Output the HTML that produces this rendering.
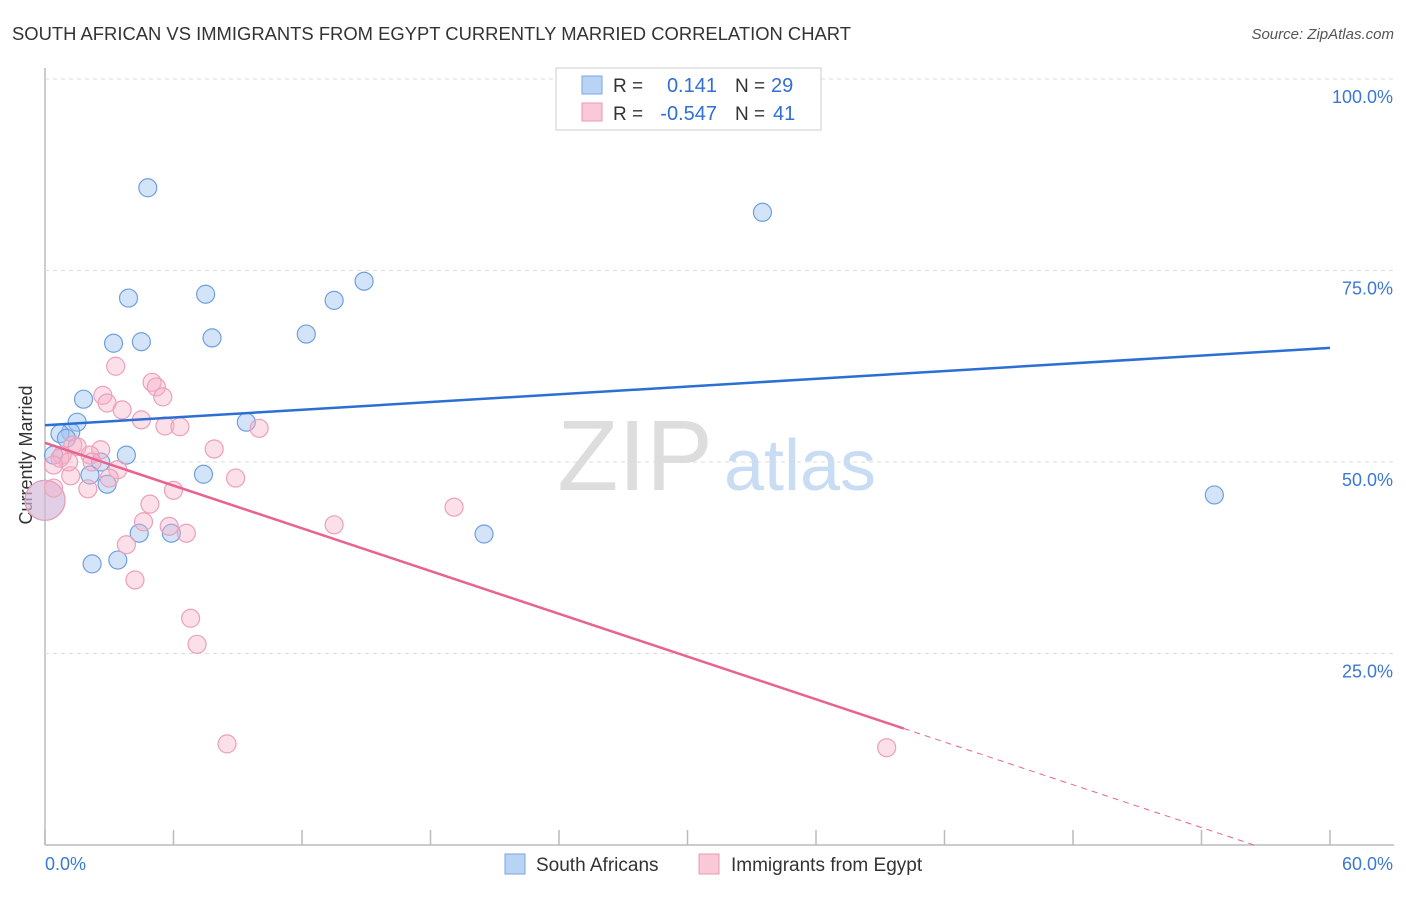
<!DOCTYPE html>
<html><head><meta charset="utf-8"><style>
body{margin:0;background:#fff;font-family:"Liberation Sans",sans-serif;}
svg text{font-family:"Liberation Sans",sans-serif;}
</style></head><body>
<svg id="c" width="1406" height="892">
<text x="12" y="40" font-size="18" textLength="839" lengthAdjust="spacingAndGlyphs" fill="#333">SOUTH AFRICAN VS IMMIGRANTS FROM EGYPT CURRENTLY MARRIED CORRELATION CHART</text>
<text x="1394" y="39" font-size="15" fill="#555" font-style="italic" text-anchor="end">Source: ZipAtlas.com</text>
<text x="635" y="490" font-size="100" fill="#ddd" font-family="Liberation Serif" text-anchor="middle">ZIP</text>
<text x="800" y="490" font-size="72" fill="#c8dcf3" text-anchor="middle">atlas</text>
<text transform="translate(32,455) rotate(-90)" font-size="18" fill="#333" text-anchor="middle">Currently Married</text>
<g id="grid"></g><g id="pts"></g><g id="lines"></g>
<g>
<rect x="556" y="68" width="265" height="62" fill="#fff" stroke="#ccc"/>
<rect x="582" y="76" width="20" height="18" fill="#b8d3f3" stroke="#7aa6e0"/>
<rect x="582" y="103" width="20" height="18" fill="#f9c9d7" stroke="#ec98b2"/>
<text x="613" y="92" font-size="19" fill="#333">R =</text><text x="717" y="92" font-size="20" fill="#2f6fd6" text-anchor="end">0.141</text>
<text x="735" y="92" font-size="19" fill="#333">N =</text><text x="771" y="92" font-size="20" fill="#2f6fd6">29</text>
<text x="613" y="120" font-size="19" fill="#333">R =</text><text x="717" y="120" font-size="20" fill="#2f6fd6" text-anchor="end">-0.547</text>
<text x="735" y="120" font-size="19" fill="#333">N =</text><text x="773" y="120" font-size="20" fill="#2f6fd6">41</text>
</g>
<g>
<rect x="505" y="854" width="20" height="20" fill="#b8d3f3" stroke="#7aa6e0"/>
<text x="536" y="871" font-size="19" fill="#333">South Africans</text>
<rect x="699" y="854" width="20" height="20" fill="#f9c9d7" stroke="#ec98b2"/>
<text x="731" y="871" font-size="19" fill="#333">Immigrants from Egypt</text>
</g>
</svg>
<script>
const blueX=[4.8,33.5,14.9,3.9,7.5,13.5,12.2,3.2,4.5,7.8,1.8,1.5,9.4,1.2,0.7,1.0,3.8,0.4,2.6,2.1,7.4,2.9,54.6,4.4,5.9,20.5,2.2,3.4,0];
const blueY=[85.8,82.6,73.6,71.4,71.9,71.1,66.7,65.5,65.7,66.2,58.2,55.2,55.2,53.9,53.7,53.1,50.9,50.9,50.0,48.3,48.4,47.1,45.7,40.7,40.7,40.6,36.7,37.2,45.0];
const pinkX=[3.3,5.0,5.2,2.7,5.5,2.9,3.6,4.5,5.6,6.3,10.0,1.3,1.5,2.6,7.9,0.8,2.1,0.7,2.2,3.4,1.2,3.0,8.9,0.4,2.0,6.0,19.1,4.9,4.6,5.8,6.6,13.5,3.8,4.2,6.8,7.1,8.5,39.3,0,1.1,0.4];
const pinkY=[62.5,60.4,59.8,58.7,58.5,57.7,56.8,55.5,54.7,54.6,54.4,52.2,52.0,51.6,51.7,50.9,50.9,50.5,50.0,49.0,48.2,47.9,47.9,46.6,46.5,46.3,44.1,44.5,42.2,41.6,40.7,41.8,39.2,34.6,29.6,26.2,13.2,12.7,45.0,50.0,49.6];
const blueTrend=[54.8,64.9];
const pinkTrend=[52.5,-3.3];
const pinkSolidEnd=40.1;
const yTicks=[25,50,75,100];
const xTicks=[0,6,12,18,24,30,36,42,48,54,60];
const NS='http://www.w3.org/2000/svg';
const sx=v=>45+v/60*1285, sy=v=>845-v/100*766;
function mk(tag,at,parent){const e=document.createElementNS(NS,tag);for(const k in at)e.setAttribute(k,at[k]);document.getElementById(parent).appendChild(e);return e;}
let e;
e=mk('line',{x1:45,y1:68,x2:45,y2:845,stroke:'#bbb','stroke-width':1.5},'grid');


e=mk('line',{x1:45,y1:845,x2:1394,y2:845,stroke:'#bbb','stroke-width':1.5},'grid');


yTicks.forEach(t=>{
 e=mk('line',{x1:45,y1:sy(t),x2:1394,y2:sy(t),stroke:'#ddd','stroke-dasharray':'4,4'},'grid');
 
 
 e=mk('text',{x:1393,y:sy(t)+24,'font-size':18,fill:'#3a78d4','text-anchor':'end'},'grid');e.textContent=t.toFixed(1)+'%';
 
 
});
xTicks.forEach(t=>{
 e=mk('line',{x1:sx(t),y1:830,x2:sx(t),y2:845,stroke:'#bbb','stroke-width':1.5},'grid');
 
 
});
e=mk('text',{x:45,y:870,'font-size':18,fill:'#3a78d4'},'grid');e.textContent='0.0%';


e=mk('text',{x:1393,y:870,'font-size':18,fill:'#3a78d4','text-anchor':'end'},'grid');e.textContent='60.0%';


blueX.forEach((x,i)=>{
 const big=i===blueX.length-1;
 e=mk('circle',{cx:sx(x),cy:sy(blueY[i]),r:big?20:9,fill:'rgba(160,195,240,0.45)',stroke:'#6f9fe0','stroke-width':1.2},'pts');
 
 
});
pinkX.forEach((x,i)=>{
 const big=i===38;
 e=mk('circle',{cx:sx(x),cy:sy(pinkY[i]),r:big?20:9,fill:'rgba(245,175,200,0.4)',stroke:'#eca0b8','stroke-width':1.2},'pts');
 
 
});
e=mk('line',{x1:sx(0),y1:sy(blueTrend[0]),x2:sx(60),y2:sy(blueTrend[1]),stroke:'#2c6fd4','stroke-width':2.5},'lines');


const py=v=>pinkTrend[0]+(pinkTrend[1]-pinkTrend[0])*v/60;
e=mk('line',{x1:sx(0),y1:sy(pinkTrend[0]),x2:sx(pinkSolidEnd),y2:sy(py(pinkSolidEnd)),stroke:'#e8638f','stroke-width':2.5},'lines');


const endX=Math.min(60,pinkTrend[0]/(pinkTrend[0]-pinkTrend[1])*60);
e=mk('line',{x1:sx(pinkSolidEnd),y1:sy(py(pinkSolidEnd)),x2:sx(endX),y2:sy(py(endX)),stroke:'#e8638f','stroke-width':1,'stroke-dasharray':'6,5'},'lines');


</script>
</body></html>
